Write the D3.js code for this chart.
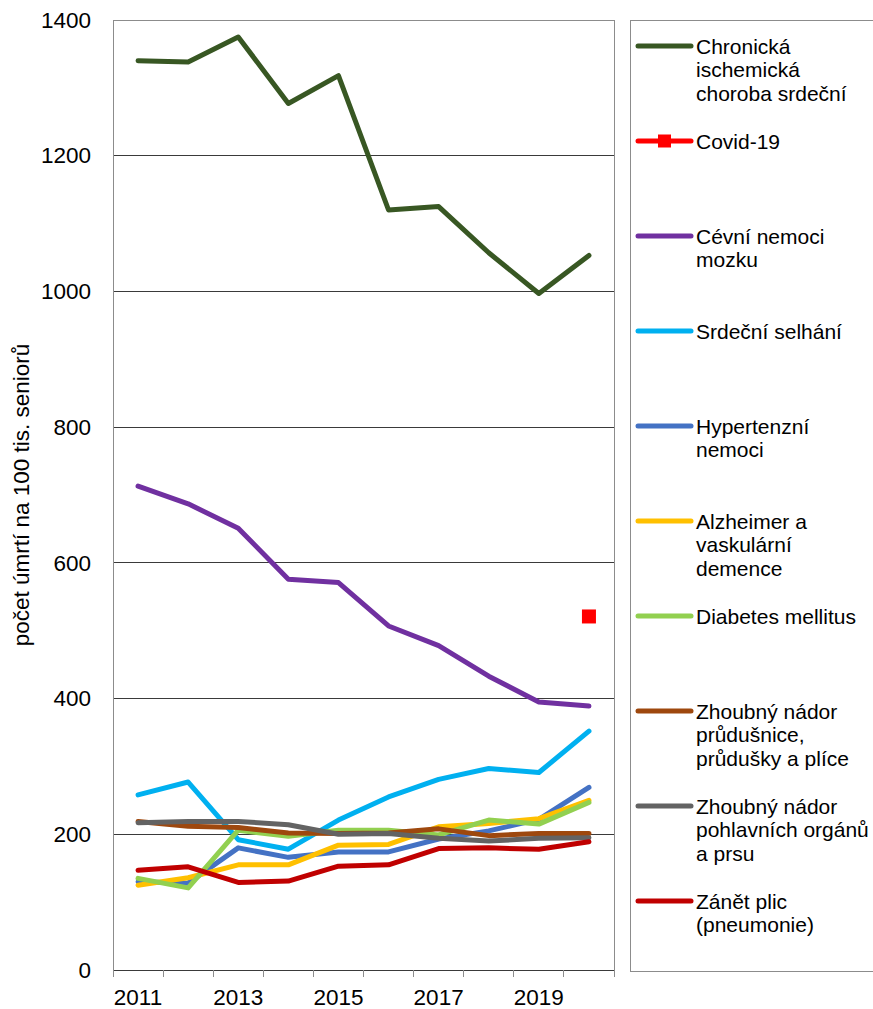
<!DOCTYPE html>
<html>
<head>
<meta charset="utf-8">
<script src="https://cdn.jsdelivr.net/npm/d3@7"></script>
<style>
  html, body { margin: 0; padding: 0; background: #fff; }
  svg { display: block; font-family: "Liberation Sans", Arial, sans-serif; }
</style>
</head>
<body>
<svg id="chart" width="873" height="1009"></svg>
<script>
const years = [2011, 2012, 2013, 2014, 2015, 2016, 2017, 2018, 2019, 2020];
const yTicks = [0, 200, 400, 600, 800, 1000, 1200, 1400];
const xTickLabels = [2011, 2013, 2015, 2017, 2019];

const ischemic      = [1340, 1338, 1375, 1277, 1318, 1120, 1125, 1057, 997, 1053];
const covid         = [null, null, null, null, null, null, null, null, null, 521];
const cerebro       = [713, 687, 651, 576, 571, 507, 478, 433, 395, 389];
const heartFailure  = [258, 277, 192, 178, 221, 255, 281, 297, 291, 352];
const hypertension  = [130, 128, 180, 166, 174, 174, 193, 205, 222, 269];
const alzheimer     = [125, 136, 155, 155, 184, 185, 211, 216, 223, 250];
const diabetes      = [135, 121, 206, 197, 206, 206, 199, 221, 215, 247];
const lungCancer    = [219, 212, 210, 202, 201, 202, 208, 198, 201, 201];
const genitalCancer = [217, 219, 219, 214, 200, 201, 194, 190, 194, 195];
const pneumonia     = [147, 152, 129, 131, 153, 155, 179, 180, 178, 189];

const seriesLabels = [
  ["Chronická", "ischemická", "choroba srdeční"],
  ["Covid-19"],
  ["Cévní nemoci", "mozku"],
  ["Srdeční selhání"],
  ["Hypertenzní", "nemoci"],
  ["Alzheimer a", "vaskulární", "demence"],
  ["Diabetes mellitus"],
  ["Zhoubný nádor", "průdušnice,", "průdušky a plíce"],
  ["Zhoubný nádor", "pohlavních orgánů", "a prsu"],
  ["Zánět plic", "(pneumonie)"]
];
const seriesColors = ["#385723", "#FF0000", "#7030A0", "#00B0F0", "#4472C4",
                      "#FFC000", "#92D050", "#9E480E", "#636363", "#C00000"];
const seriesValues = [ischemic, covid, cerebro, heartFailure, hypertension,
                      alzheimer, diabetes, lungCancer, genitalCancer, pneumonia];
const yTitle = "počet úmrtí na 100 tis. seniorů";

(function () {
const svg = d3.select("#chart");
const pLeft = 113, pRight = 614, pTop = 20, pBottom = 970;

const x = d3.scaleBand().domain(years).range([pLeft, pRight]).padding(0);
const cx = d => x(d) + x.bandwidth() / 2;
const y = d3.scaleLinear().domain([0, 1400]).range([pBottom, pTop]);

// gridlines
svg.append("g")
  .selectAll("line")
  .data(yTicks.filter(t => t > 0 && t < 1400))
  .join("line")
  .attr("x1", pLeft).attr("x2", pRight)
  .attr("y1", d => y(d)).attr("y2", d => y(d))
  .attr("stroke", "#3a3a3a").attr("stroke-width", 1)
  .attr("shape-rendering", "crispEdges");

// plot border (top/right)
svg.append("path")
  .attr("d", `M${pLeft},${y(1400)}H${pRight}V${pBottom}`)
  .attr("fill", "none").attr("stroke", "#8c8c8c").attr("stroke-width", 1)
  .attr("shape-rendering", "crispEdges");

// y axis
const yAxis = d3.axisLeft(y).tickValues(yTicks).tickSize(0).tickPadding(22).tickFormat(d3.format("d"));
const gy = svg.append("g").attr("transform", `translate(${pLeft},0)`).call(yAxis);
gy.select(".domain").attr("stroke", "#8c8c8c").attr("shape-rendering", "crispEdges");
gy.selectAll("text").attr("font-size", "22.5px").attr("fill", "#000")
  .attr("font-family", "'Liberation Sans', Arial, sans-serif");

// x axis: ticks at band edges
const gx = svg.append("g").attr("transform", `translate(0,${pBottom})`);
gx.append("line").attr("x1", pLeft).attr("x2", pRight).attr("y1", 0).attr("y2", 0)
  .attr("stroke", "#3a3a3a").attr("shape-rendering", "crispEdges");
const edges = years.map(d => x(d)).concat([x(years[years.length - 1]) + x.bandwidth()]);
gx.selectAll("line.tick").data(edges).join("line").attr("class", "tick")
  .attr("x1", d => d).attr("x2", d => d).attr("y1", 0).attr("y2", 7)
  .attr("stroke", "#8c8c8c").attr("shape-rendering", "crispEdges");
gx.selectAll("text").data(xTickLabels).join("text")
  .attr("x", d => cx(d)).attr("y", 35)
  .attr("text-anchor", "middle").attr("font-size", "22.5px").attr("fill", "#000")
  .text(d => d);

// y title
svg.append("text")
  .attr("transform", `translate(29,${(pTop + pBottom) / 2}) rotate(-90)`)
  .attr("text-anchor", "middle").attr("font-size", "22.5px").attr("fill", "#000")
  .text(yTitle);

// lines
const line = d3.line().defined(d => d.v != null).x(d => cx(d.year)).y(d => y(d.v));
seriesValues.forEach((vals, i) => {
  const pts = years.map((yr, j) => ({year: yr, v: vals[j]}));
  if (i === 1) {
    svg.append("g").selectAll("rect").data(pts.filter(p => p.v != null)).join("rect")
      .attr("x", d => cx(d.year) - 7).attr("y", d => y(d.v) - 7)
      .attr("width", 14).attr("height", 14).attr("fill", seriesColors[i]);
  } else {
    svg.append("path").datum(pts)
      .attr("d", line).attr("fill", "none")
      .attr("stroke", seriesColors[i]).attr("stroke-width", 5)
      .attr("stroke-linecap", "round").attr("stroke-linejoin", "round");
  }
});

// legend
const lg = svg.append("g");
lg.append("rect").attr("x", 630.5).attr("y", 20.5).attr("width", 250).attr("height", 951)
  .attr("fill", "none").attr("stroke", "#8c8c8c");
const legendY0 = 46, legendStep = 95, lineH = 23.5;
seriesLabels.forEach((lines, i) => {
  const ly = legendY0 + i * legendStep;
  lg.append("line").attr("x1", 638).attr("x2", 691).attr("y1", ly).attr("y2", ly)
    .attr("stroke", seriesColors[i]).attr("stroke-width", 5).attr("stroke-linecap", "round");
  if (i === 1) {
    lg.append("rect").attr("x", 658).attr("y", ly - 6.5).attr("width", 13).attr("height", 13)
      .attr("fill", seriesColors[i]);
  }
  const t = lg.append("text").attr("x", 696).attr("y", ly).attr("font-size", "21px").attr("fill", "#000");
  lines.forEach((s, k) => {
    t.append("tspan").attr("x", 696).attr("y", ly + k * lineH).attr("dy", "0.36em").text(s);
  });
});
})();
</script>
</body>
</html>
